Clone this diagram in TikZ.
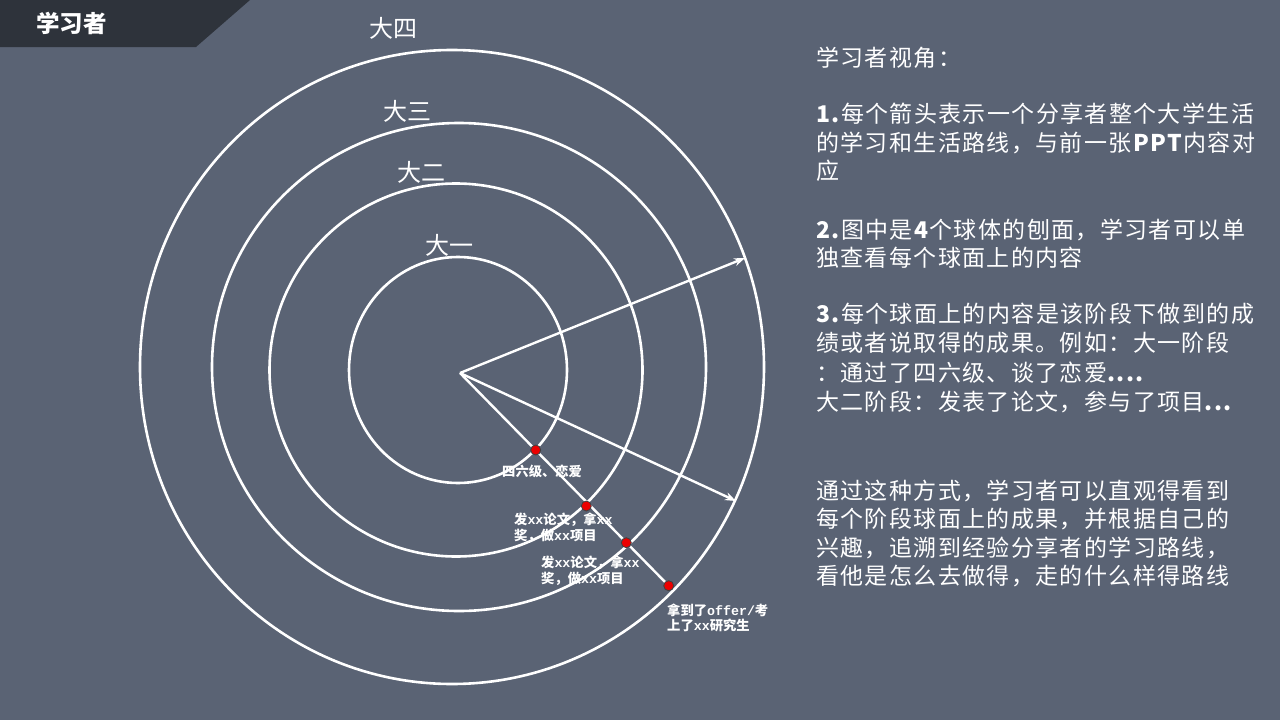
\documentclass[tikz,border=0pt]{standalone}
\usepackage{fontspec}
\setmainfont{Noto Sans CJK SC}
\newfontfamily\latmono{Liberation Mono}
\usetikzlibrary{arrows.meta}
\definecolor{bg}{RGB}{90,99,116}
\definecolor{bar}{RGB}{46,51,59}
\definecolor{dotred}{RGB}{235,0,0}
\newcommand{\mx}[1]{{\latmono #1}}
\begin{document}
\begin{tikzpicture}[x=1pt,y=-1pt,
  ring/.style={draw=white, line width=2.6pt},
  ringlabel/.style={text=white, font=\fontsize{24}{26}\selectfont, inner sep=0pt},
  arr/.style={draw=white, line width=2.4pt, -{Stealth[length=11pt,width=8pt]}},
  path/.style={draw=white, line width=2.4pt},
  reddot/.style={circle, fill=dotred, draw=black!75, line width=0.8pt, inner sep=0pt, minimum size=10pt},
  small/.style={text=white, font=\bfseries\fontsize{13.3}{15.5}\selectfont, align=left, anchor=west, inner sep=0pt},
  para/.style={text=white, font=\fontsize{23}{28.5}\selectfont\addfontfeature{LetterSpace=6}, align=left, anchor=base west, inner sep=0pt}
]
\fill[bg] (0,0) rectangle (1280,720);
\useasboundingbox (0,0) rectangle (1280,720);
% title bar
\fill[bar] (0,0) -- (250,0) -- (196,47) -- (0,47) -- cycle;
\node[text=white, font=\bfseries\fontsize{23.5}{26}\selectfont, anchor=west, inner sep=0pt] (title) at (36,23) {学习者};

% rings
\draw[ring] (452,367) ellipse [x radius=312pt, y radius=317pt];
\draw[ring] (459,367) ellipse [x radius=247pt, y radius=244pt];
\draw[ring] (456,370) ellipse [x radius=186.5pt, y radius=186.5pt];
\draw[ring] (458,370) ellipse [x radius=109pt, y radius=113pt];

\node[ringlabel] (l4) at (393,28) {大四};
\node[ringlabel] (l3) at (407,111) {大三};
\node[ringlabel] (l2) at (421,172) {大二};
\node[ringlabel] (l1) at (449,245) {大一};

% arrows
\coordinate (o) at (460,373);
\coordinate (a1) at (745,258);
\coordinate (a2) at (736,501);
\draw[arr] (o) -- (a1);
\draw[arr] (o) -- (a2);

% path with dots
\coordinate (d4c) at (668.7,585.7);
\draw[path] (o) -- (d4c);
\node[reddot] (d1) at (535.7,450) {};
\node[reddot] (d2) at (586.3,506) {};
\node[reddot] (d3) at (626.3,542.7) {};
\node[reddot] (d4) at (d4c) {};

\node[small] (t1) at (502,471) {四六级、恋爱};
\node[small] (t2) at (514,527.5) {发\mx{xx}论文，拿\mx{xx}\\奖，做\mx{xx}项目};
\node[small] (t3) at (541,570.5) {发\mx{xx}论文，拿\mx{xx}\\奖，做\mx{xx}项目};
\node[small] (t4) at (667,618) {拿到了\mx{offer/}考\\上了\mx{xx}研究生};

% right text (base anchor = baseline of the last line)
\node[para] (p0) at (816,66.5) {学习者视角：};
\node[para] (p1) at (816,179.5) {\textbf{1.}每个箭头表示一个分享者整个大学生活\\的学习和生活路线，与前一张\textbf{PPT}内容对\\应};
\node[para] (p2) at (816,266.5) {\textbf{2.}图中是\textbf{4}个球体的刨面，学习者可以单\\独查看每个球面上的内容};
\node[para, font=\fontsize{23}{29.3}\selectfont\addfontfeature{LetterSpace=6}] (p3) at (816,410.5) {\textbf{3.}每个球面上的内容是该阶段下做到的成\\绩或者说取得的成果。例如：大一阶段\\：通过了四六级、谈了恋爱\textbf{....}\\大二阶段：发表了论文，参与了项目\textbf{...}};
\node[para] (p4) at (816,584.5) {通过这种方式，学习者可以直观得看到\\每个阶段球面上的成果，并根据自己的\\兴趣，追溯到经验分享者的学习路线，\\看他是怎么去做得，走的什么样得路线};
\end{tikzpicture}
\end{document}
